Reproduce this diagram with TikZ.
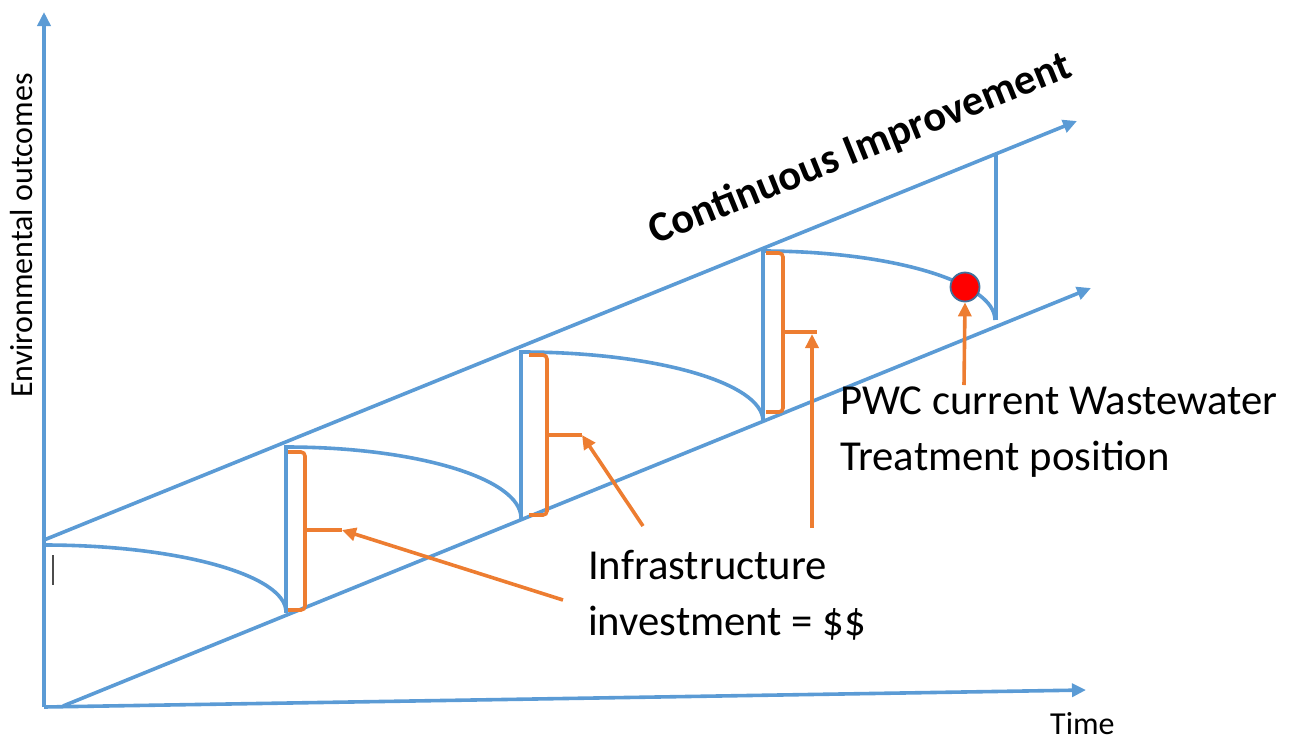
\documentclass[tikz,border=0pt]{standalone}
\usepackage{fontspec}
\setmainfont{Carlito}
\usetikzlibrary{arrows.meta}
\definecolor{oblue}{HTML}{5B9BD5}
\definecolor{oorange}{HTML}{ED7D31}
\definecolor{dotedge}{HTML}{41719C}
\tikzset{
  axisline/.style={draw=oblue, line width=3.6pt, -{Triangle[length=14pt,width=13pt]}},
  blueline/.style={draw=oblue, line width=3.6pt},
  bracebox/.style={draw=oorange, line width=3.6pt, rounded corners=4pt},
  stubline/.style={draw=oorange, line width=3.6pt},
  oarrow/.style={draw=oorange, line width=3.6pt, -{Triangle[length=14pt,width=13pt]}},
  bigtext/.style={font=\fontsize{42.7}{56}\selectfont, inner sep=0pt, align=left},
  smalltext/.style={font=\fontsize{32}{38}\selectfont, inner sep=0pt},
}
\begin{document}
\begin{tikzpicture}[x=1pt,y=-1pt]
\useasboundingbox (0,0) rectangle (1295,742);
% axes
\coordinate (O) at (44,707);
\coordinate (ytip) at (44,12);
\coordinate (xtip) at (1086,690);
\draw[axisline] (O) -- (ytip);
\draw[axisline] (O) -- (xtip);
% diagonal bands
\coordinate (ls) at (63,706);
\coordinate (le) at (1091,288);
\coordinate (us) at (44,540);
\coordinate (ue) at (1077,121);
\draw[axisline] (ls) -- (le);
\draw[axisline] (us) -- (ue);
% curves (quarter ellipses)
\draw[blueline] (44,545) .. controls (177.6,545) and (286,575) .. (286,612);
\draw[blueline] (286,447) .. controls (415.7,447) and (521,478.4) .. (521,518);
\draw[blueline] (522,352) .. controls (655,352) and (763,383) .. (763,421);
\draw[blueline] (763,251) .. controls (891,251) and (995,282) .. (995,320);
% verticals
\draw[blueline] (286,445) -- (286,613);
\draw[blueline] (521,350) -- (521,519);
\draw[blueline] (763,250) -- (763,421);
\draw[blueline] (996,154) -- (996,320);
% cursor mark
\draw[line width=1.3pt, black!70] (53,555) -- (53,585);
% braces
\draw[bracebox] (288,452) -- (305,452) -- (305,610) -- (288,610);
\draw[stubline] (303,530) -- (342,530) coordinate (b1);
\draw[bracebox] (529,355) -- (547,355) -- (547,515) -- (529,515);
\draw[stubline] (545,435) -- (582,435) coordinate (b2);
\draw[bracebox] (766,253) -- (783,253) -- (783,412) -- (766,412);
\draw[stubline] (781,332) -- (817,332);
\coordinate (b3) at (812,334);
% red dot
\node[circle, fill=red, draw=dotedge, line width=1.8pt, minimum size=29pt, inner sep=0pt] (dot) at (965,287) {};
% texts (base anchor = baseline of last line)
\node[bigtext, anchor=base west] (infra) at (588,635) {Infrastructure\\investment = \$\$};
\node[bigtext, anchor=base west] (pwc) at (840,470) {PWC current Wastewater\\Treatment position};
\node[smalltext, rotate=90, anchor=base west] (ylab) at (32,398) {Environmental outcomes};
\node[smalltext, anchor=base west] (xlab) at (1050,734) {Time};
\node[font=\fontsize{42.6}{50}\selectfont\bfseries, inner sep=0pt, rotate=22, anchor=base west] (title) at (655,245) {Continuous Improvement};
% pointer arrows
\coordinate (a1) at (563,600);
\coordinate (a2) at (643,526);
\coordinate (a3) at (812,528);
\coordinate (a4) at (964,385);
\draw[oarrow] (a1) -- (b1);
\draw[oarrow] (a2) -- (b2);
\draw[oarrow] (a3) -- (b3);
\draw[oarrow] (a4) -- (dot.south);
\end{tikzpicture}
\end{document}
